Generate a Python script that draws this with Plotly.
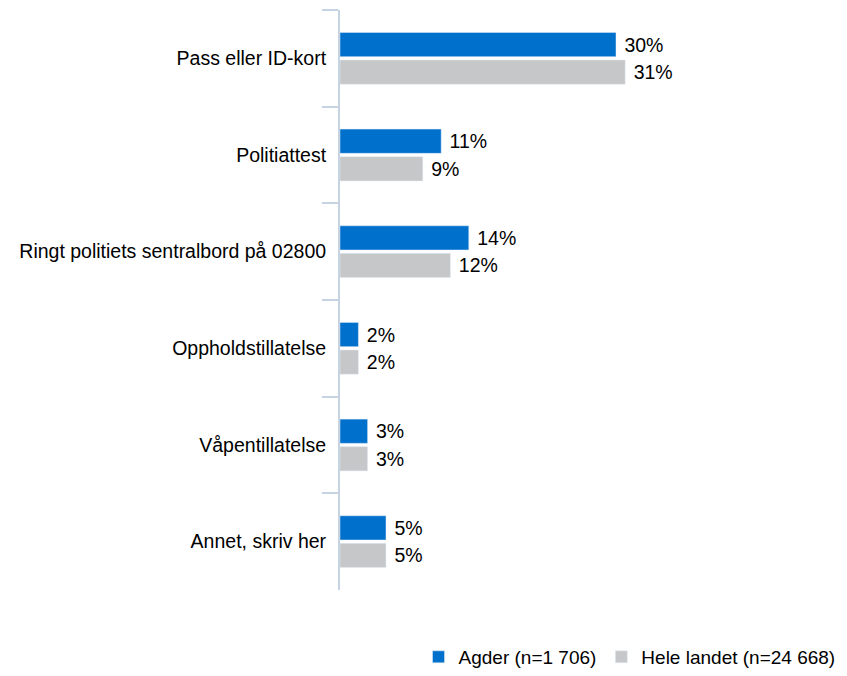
import plotly.graph_objects as go

categories = ["Pass eller ID-kort", "Politiattest", "Ringt politiets sentralbord på 02800",
              "Oppholdstillatelse", "Våpentillatelse", "Annet, skriv her"]
agder = [30, 11, 14, 2, 3, 5]
hele_landet = [31, 9, 12, 2, 3, 5]

blue = "#0070cd"
grey = "#c6c7c8"
font = "Liberation Sans, Arial, sans-serif"
fs = 19.5

fig = go.Figure()
fig.add_trace(go.Bar(y=categories, x=agder, orientation="h", name="Agder (n=1 706)",
                     marker_color=blue, texttemplate=" %{x}%",
                     textposition="outside", cliponaxis=False))
fig.add_trace(go.Bar(y=categories, x=hele_landet, orientation="h", name="Hele landet (n=24 668)",
                     marker_color=grey, texttemplate=" %{x}%",
                     textposition="outside", cliponaxis=False))

# page body has an 8px margin, so the figure is a bit smaller than the window
fig.update_layout(
    width=831, height=660,
    margin=dict(l=332, r=39, t=2, b=78, autoexpand=False),
    barmode="group", bargap=0.43, bargroupgap=0.12,
    plot_bgcolor="white", paper_bgcolor="white",
    font=dict(family=font, size=fs, color="#000000"),
    legend=dict(orientation="h", xref="container", yref="container",
                x=0.494, xanchor="left", y=0.0167, yanchor="middle",
                font=dict(size=19), traceorder="normal"),
)
fig.update_traces(textfont=dict(size=fs, color="#000000"))
fig.update_xaxes(range=[0, 50], visible=False)
fig.update_yaxes(autorange="reversed", automargin=False, showline=True,
                 linecolor="#c5d3e3", linewidth=2,
                 ticks="outside", tickson="boundaries", ticklen=16, tickcolor="#c5d3e3",
                 tickwidth=2, ticklabelstandoff=8, showgrid=False)

fig.write_html("out.html")
